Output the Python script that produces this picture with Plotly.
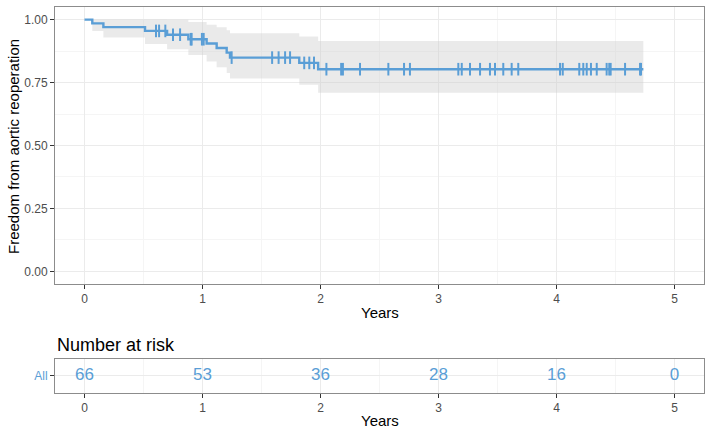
import numpy as np
import plotly.graph_objects as go

# ---- data ----
step_times = [0.0, 0.066, 0.16, 0.513, 0.70, 0.88, 1.035, 1.12, 1.205, 1.233, 1.82, 1.98]
surv = [1.0, 0.985, 0.970, 0.955, 0.940, 0.922, 0.905, 0.887, 0.869, 0.849, 0.828, 0.803]
ci_upper = [1.0, 1.0, 1.0, 1.0, 0.999, 0.990, 0.980, 0.970, 0.958, 0.946, 0.933, 0.915]
ci_lower = [1.0, 0.955, 0.929, 0.903, 0.882, 0.859, 0.834, 0.811, 0.788, 0.766, 0.741, 0.709]
end_time = 4.736
censor_times = [0.606, 0.632, 0.685, 0.75, 0.81, 0.90, 0.908, 0.995, 1.01, 1.247,
                1.59, 1.645, 1.70, 1.742, 1.862, 1.905, 1.945, 2.05, 2.175, 2.19, 2.335,
                2.575, 2.708, 2.758, 3.168, 3.197, 3.267, 3.352, 3.436, 3.479, 3.549,
                3.620, 3.676, 4.030, 4.053, 4.193, 4.227, 4.256, 4.292, 4.341, 4.425,
                4.447, 4.459, 4.581, 4.708, 4.716]
risk_times = [0, 1, 2, 3, 4, 5]
risk_counts = [66, 53, 36, 28, 16, 0]
y_ticks = [0, 0.25, 0.5, 0.75, 1.0]
y_ticktext = ["0.00", "0.25", "0.50", "0.75", "1.00"]

BLUE = "#5A9ED6"
GRID = "#EBEBEB"
MINOR = "#F5F5F5"
BORDER = "#8C8C8C"
TICKC = "#4D4D4D"
FONT = "Liberation Sans, Arial, Helvetica, sans-serif"

fig = go.Figure()

xs = step_times + [end_time]
fig.add_trace(go.Scatter(x=xs, y=ci_upper + [ci_upper[-1]], mode="lines", line_shape="hv",
                         line=dict(width=0), hoverinfo="skip", showlegend=False))
fig.add_trace(go.Scatter(x=xs, y=ci_lower + [ci_lower[-1]], mode="lines", line_shape="hv",
                         line=dict(width=0), fill="tonexty", fillcolor="rgba(205,205,205,0.42)",
                         hoverinfo="skip", showlegend=False))
fig.add_trace(go.Scatter(x=xs, y=surv + [surv[-1]], mode="lines", line_shape="hv",
                         line=dict(color=BLUE, width=2.4), showlegend=False))
idx = np.searchsorted(np.array(step_times), np.array(censor_times), side="right") - 1
cens_y = [surv[i] for i in idx]
fig.add_trace(go.Scatter(x=censor_times, y=cens_y, mode="markers",
                         marker=dict(symbol="line-ns", size=9, line=dict(color=BLUE, width=2)),
                         showlegend=False))

# risk table
fig.add_trace(go.Scatter(x=risk_times, y=[0] * len(risk_times), mode="text",
                         text=[str(c) for c in risk_counts],
                         textfont=dict(color=BLUE, size=17, family=FONT),
                         xaxis="x2", yaxis="y2", showlegend=False))

axis_common = dict(showline=True, mirror=True, linecolor=BORDER, linewidth=1,
                   ticks="outside", ticklen=4, tickcolor="#333333", tickwidth=1,
                   gridcolor=GRID, gridwidth=1, zeroline=False, automargin=False,
                   tickfont=dict(size=12, color=TICKC, family=FONT))

fig.update_layout(
    width=708, height=435,
    margin=dict(l=55, r=4, t=7, b=42),
    paper_bgcolor="white", plot_bgcolor="white",
    font=dict(family=FONT),
    xaxis=dict(domain=[0, 1], range=[-0.25, 5.25], tickvals=risk_times, anchor="y",
               minor=dict(dtick=0.5, tick0=0, showgrid=True, gridcolor=MINOR, ticks=""),
               **axis_common),
    yaxis=dict(domain=[0.2824, 1], range=[-0.05, 1.05], tickvals=y_ticks, ticktext=y_ticktext,
               anchor="x",
               minor=dict(dtick=0.125, tick0=0, showgrid=True, gridcolor=MINOR, ticks=""),
               **axis_common),
    xaxis2=dict(domain=[0, 1], range=[-0.25, 5.25], tickvals=risk_times, anchor="y2",
                minor=dict(dtick=0.5, tick0=0, showgrid=True, gridcolor=MINOR, ticks=""),
                **axis_common),
    yaxis2=dict(domain=[0, 0.0881], range=[-0.6, 0.6], tickvals=[0], ticktext=["All"],
                anchor="x2",
                **{k: v for k, v in axis_common.items() if k != "tickfont"},
                tickfont=dict(size=12, color=BLUE, family=FONT)),
    annotations=[
        dict(text="Years", x=0.5, y=0.2098, xref="paper", yref="paper", showarrow=False,
             xanchor="center", yanchor="middle", font=dict(size=15, color="black", family=FONT)),
        dict(text="Years", x=0.5, y=-0.0725, xref="paper", yref="paper", showarrow=False,
             xanchor="center", yanchor="middle", font=dict(size=15, color="black", family=FONT)),
        dict(text="Number at risk", x=0.0, y=0.1244, xref="paper", yref="paper", showarrow=False,
             xanchor="left", yanchor="middle", font=dict(size=18, color="black", family=FONT)),
        dict(text="Freedom from aortic reoperation", x=-0.0632, y=0.6399, xref="paper",
             yref="paper", showarrow=False, textangle=-90, xanchor="center", yanchor="middle",
             font=dict(size=15, color="black", family=FONT)),
    ],
)

fig.write_html("out.html", config={"displayModeBar": False},
               post_script="document.body.style.margin='0';document.body.style.overflow='hidden';")
